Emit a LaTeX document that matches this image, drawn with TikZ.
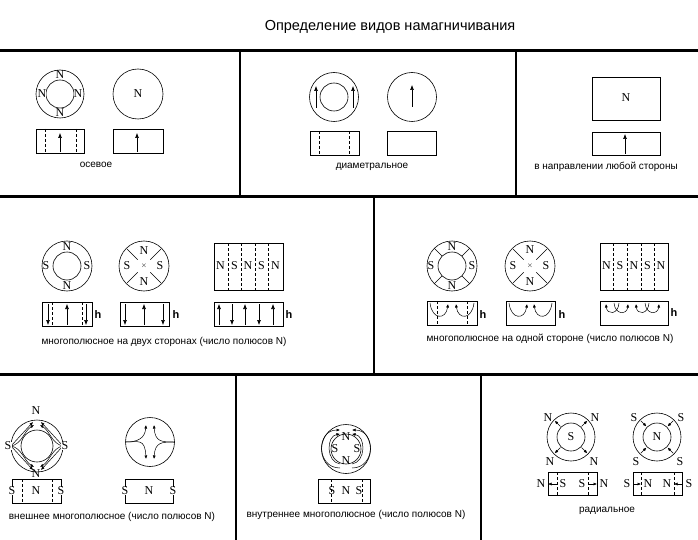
\documentclass[tikz,border=0pt]{standalone}
\usepackage{fontspec}
\setmainfont{Liberation Serif}
\newfontfamily\capfont{Liberation Sans}
\usetikzlibrary{arrows.meta}
\tikzstyle{lab}=[inner sep=0pt, font=\fontsize{12}{12}\selectfont]
\tikzstyle{capt}=[inner sep=0pt, font=\capfont\fontsize{10}{10}\selectfont]
\tikzstyle{mag}=[draw, line width=0.6pt]
\tikzstyle{arr}=[-{Latex[length=5pt,width=4pt]}, line width=0.6pt]
\tikzstyle{sarr}=[-{Latex[length=3.5pt,width=3pt]}, line width=0.5pt]
\tikzstyle{dsh}=[dashed, dash pattern=on 3pt off 2pt, line width=0.5pt]
\tikzstyle{hh}=[inner sep=0pt, font=\capfont\bfseries\fontsize{11}{11}\selectfont]
\tikzstyle{frame}=[line width=3pt]
\begin{document}
\begin{tikzpicture}[x=1pt, y=-1pt, line width=0.6pt]
\useasboundingbox (0,0) rectangle (698,540);
\node[capt, font=\capfont\fontsize{14.5}{14.5}\selectfont] (title) at (390,27)
  {Определение видов намагничивания};
% frames
\draw[frame] (0,51) -- (698,51);
\draw[frame] (0,196) -- (698,196);
\draw[frame] (0,374) -- (698,374);
\draw[line width=2pt] (240,51) -- (240,196);
\draw[line width=2pt] (516,51) -- (516,196);
\draw[line width=2pt] (374,196) -- (374,374);
\draw[line width=2pt] (236,374) -- (236,540);
\draw[line width=2pt] (481,374) -- (481,540);
%
% ---- axial
\draw (60,94) circle (24) circle (14);
\foreach \p in {(60,75),(60,113),(42,94),(78,94)}
  \node[lab, fill=white] at \p {N};
\draw (138,94) circle (25); \node[lab] (axN) at (138,94) {N};
\draw[mag] (36,129) rectangle (84,153);
\draw[dsh] (45,129) -- (45,153); \draw[dsh] (76,129) -- (76,153);
\draw[arr] (60,152) -- (60,133);
\draw[mag] (113,129) rectangle (163,153);
\draw[arr] (137,152) -- (137,133);
\node[capt] (axial) at (96,165) {осевое};
%
% ---- diametral
\draw (334,97) circle (24.5) circle (14);
\draw[arr] (316,108) -- (316,86); \draw[arr] (353,108) -- (353,86);
\draw (412,97) circle (24.5);
\draw[arr] (412,107) -- (412,85);
\draw[mag] (310,131) rectangle (359,155);
\draw[dsh] (319,131) -- (319,155); \draw[dsh] (349,131) -- (349,155);
\draw[mag] (387,131) rectangle (436,155);
\node[capt] (diam) at (372,167) {диаметральное};
%
% ---- any side
\draw[mag] (592,77) rectangle (660,120); \node[lab] (sideN) at (626,98) {N};
\draw[mag] (592,132) rectangle (660,155);
\draw[arr] (625,154) -- (625,134);
\node[capt] (side) at (606,167) {в направлении любой стороны};
%
% ---- multipole two sides
\draw (67,266) circle (25) circle (14);
\foreach \p/\t in {(67,247)/N,(67,286)/N,(46,266)/S,(87,266)/S}
  \node[lab, fill=white] at \p {\t};
\draw (144,266) circle (25);
\foreach \a in {45,135,225,315}
  \draw (144,266) ++(\a:9) -- ++(\a:15);
\node[lab, font=\fontsize{7}{7}\selectfont] at (144,266) {$\times$};
\foreach \p/\t in {(144,251)/N,(144,282)/N,(127,266)/S,(160,266)/S}
  \node[lab] at \p {\t};
\draw[mag] (214,243) rectangle (283,290);
\foreach \x in {228,241,255,268} \draw[dsh] (\x,243) -- (\x,290);
\foreach \x/\t in {220.5/N,234.5/S,248/N,261.5/S,275.5/N}
  \node[lab, fill=white, inner sep=0.3pt] at (\x,266) {\t};
\draw[mag] (42,302) rectangle (92,326);
\draw[dsh] (52,302) -- (52,326); \draw[dsh] (82,302) -- (82,326);
\draw[arr] (48,304) -- (48,325); \draw[arr] (86,304) -- (86,325);
\draw[arr] (67,325) -- (67,304);
\node[hh] at (98,315) {h};
\draw[mag] (120,302) rectangle (169,326);
\draw[arr] (125,304) -- (125,325); \draw[arr] (163,304) -- (163,325);
\draw[arr] (144,325) -- (144,304);
\node[hh] at (176,315) {h};
\draw[mag] (214,302) rectangle (283,326);
\foreach \x in {219,245,273} \draw[arr] (\x,325) -- (\x,304);
\foreach \x in {232,259} \draw[arr] (\x,304) -- (\x,325);
\node[hh] at (289,315) {h};
\node[capt] (twoside) at (164,342) {многополюсное на двух сторонах (число полюсов N)};
%
% ---- multipole one side
\draw (452,266) circle (25) circle (14);
\foreach \a in {45,135,225,315}
  \draw (452,266) ++(\a:14) -- ++(\a:11);
\foreach \p/\t in {(452,247)/N,(452,286)/N,(431,266)/S,(472,266)/S}
  \node[lab, fill=white] at \p {\t};
\draw (530,266) circle (25);
\foreach \a in {45,135,225,315}
  \draw (530,266) ++(\a:9) -- ++(\a:15);
\node[lab, font=\fontsize{7}{7}\selectfont] at (530,266) {$\times$};
\foreach \p/\t in {(530,250)/N,(530,282)/N,(513,266)/S,(546,266)/S}
  \node[lab] at \p {\t};
\draw[mag] (600,243) rectangle (668,290);
\foreach \x in {613,627,641,654} \draw[dsh] (\x,243) -- (\x,290);
\foreach \x/\t in {606.5/N,620/S,634/N,647.5/S,661/N}
  \node[lab, fill=white, inner sep=0.3pt] at (\x,266) {\t};
\draw[mag] (427,301) rectangle (477,325);
\draw[dsh] (437,301) -- (437,325); \draw[dsh] (467,301) -- (467,325);
\draw[sarr] (430,303) .. controls (432,320) and (446,320) .. (448,304);
\draw[sarr] (474,303) .. controls (472,320) and (458,320) .. (456,304);
\node[hh] at (483,315) {h};
\draw[mag] (506,301) rectangle (555,325);
\draw[sarr] (509,303) .. controls (511,320) and (525,320) .. (527,304);
\draw[sarr] (552,303) .. controls (550,320) and (536,320) .. (534,304);
\node[hh] at (562,315) {h};
\draw[mag] (600,301) rectangle (668,325);
\draw[sarr] (619,303) .. controls (618,315) and (607,315) .. (606,304);
\draw[sarr] (614,303) .. controls (615,315) and (627,315) .. (628,304);
\draw[sarr] (649,303) .. controls (648,315) and (637,315) .. (636,304);
\draw[sarr] (645,303) .. controls (646,315) and (658,315) .. (659,304);
\node[hh] at (674,313) {h};
\node[capt] (oneside) at (550,339) {многополюсное на одной стороне (число полюсов N)};
%
% ---- external multipole
\draw (37,446) circle (26) circle (16);
\foreach \s in {1,-1}{
  \draw[sarr] (11,446) -- (33,446-\s*24);
  \draw[sarr] (63,446) -- (41,446-\s*24);
  \draw[sarr] (11,446) .. controls (22,446-\s*2) and (24,446-\s*15) .. (34,446-\s*21);
  \draw[sarr] (63,446) .. controls (52,446-\s*2) and (50,446-\s*15) .. (40,446-\s*21);
}
\node[lab] at (36,411) {N}; \node[lab] at (36,474) {N};
\node[lab, fill=white, inner sep=0.3pt] at (8,446) {S};
\node[lab, fill=white, inner sep=0.3pt] at (65,446) {S};
\draw (150,442) circle (24.5);
\foreach \s in {1,-1}{
  \draw[sarr] (126,442) .. controls (138,442) and (145,438+\s*0) .. (146,442-\s*17);
  \draw[sarr] (174,442) .. controls (162,442) and (155,442) .. (154,442-\s*17);
}
\draw[mag] (12,479) rectangle (61,503);
\draw[dsh] (22,479) -- (22,503); \draw[dsh] (52,479) -- (52,503);
\node[lab] at (36,491) {N};
\node[lab, fill=white, inner sep=0.3pt] at (12,491) {S};
\node[lab, fill=white, inner sep=0.3pt] at (61,491) {S};
\draw[mag] (125,479) rectangle (173,503);
\node[lab] at (149,491) {N};
\node[lab, fill=white, inner sep=0.3pt] at (125,491) {S};
\node[lab, fill=white, inner sep=0.3pt] at (173,491) {S};
\node[capt] (external) at (112,517) {внешнее многополюсное (число полюсов N)};
%
% ---- internal multipole
\draw (346,449) circle (24.5) circle (15);
\foreach \s in {1,-1}{
  \draw[sarr] (346-\s*6,468) .. controls (346-\s*30,468) and (346-\s*30,430) .. (346-\s*6,430);
  \draw[sarr] (346-\s*6,464) .. controls (346-\s*20,462) and (346-\s*20,436) .. (346-\s*6,434);
}
\node[lab] at (346,437) {N}; \node[lab] at (346,461) {N};
\node[lab] at (335,449) {S}; \node[lab] at (357,449) {S};
\draw[mag] (318,479) rectangle (370,503);
\draw[dsh] (331,479) -- (331,503); \draw[dsh] (362,479) -- (362,503);
\node[lab] at (332,491) {S}; \node[lab] at (346,491) {N}; \node[lab] at (359,491) {S};
\node[capt] (internal) at (356,515) {внутреннее многополюсное (число полюсов N)};
%
% ---- radial
\draw (571,437) circle (24) circle (14);
\node[lab] at (571,437) {S};
\foreach \a in {45,135,225,315} \draw[sarr] (571,437) ++(\a:15) -- ++(\a:8);
\foreach \p in {(548,418),(595,418),(550,462),(594,462)} \node[lab] at \p {N};
\draw (657,437) circle (24) circle (14);
\node[lab] at (657,437) {N};
\foreach \a in {45,135,225,315} \draw[sarr] (657,437) ++(\a:23) -- ++(\a:-8);
\foreach \p in {(634,418),(681,418),(636,462),(680,462)} \node[lab] at \p {S};
\draw[mag] (548,472) rectangle (597,495);
\draw[dsh] (557,472) -- (557,495); \draw[dsh] (588,472) -- (588,495);
\node[lab] at (563,484) {S}; \node[lab] at (582,484) {S};
\draw[sarr] (557,484) -- (548,484); \draw[sarr] (588,484) -- (597,484);
\node[lab] at (541,484) {N}; \node[lab] at (604,484) {N};
\draw[mag] (633,472) rectangle (682,495);
\draw[dsh] (641,472) -- (641,495); \draw[dsh] (674,472) -- (674,495);
\node[lab] at (648,484) {N}; \node[lab] at (667,484) {N};
\draw[sarr] (633,484) -- (641,484); \draw[sarr] (682,484) -- (674,484);
\node[lab] at (627,484) {S}; \node[lab] at (689,484) {S};
\node[capt] (radial) at (607,511) {радиальное};
\end{tikzpicture}
\end{document}
